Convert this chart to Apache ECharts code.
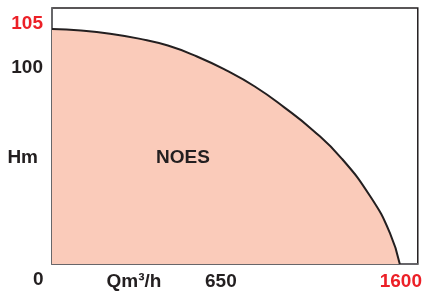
<!DOCTYPE html>
<html>
<head>
<meta charset="utf-8">
<script src="https://cdn.jsdelivr.net/npm/echarts@6/dist/echarts.min.js"></script>
<style>html,body{margin:0;padding:0;background:#fff}#c{width:425px;height:295px}</style>
</head>
<body>
<div id="c"></div>
<script>
// Data
var flowQ = [0, 133, 267, 400, 533, 667, 800, 933, 1067, 1200, 1333, 1467, 1554, 1600];
var headH = [105, 104.3, 102.9, 100.7, 97.6, 92.7, 86.6, 79.3, 70.1, 59.8, 47.1, 29.8, 14.0, 0];
var yTickLabels = ['105', '100', 'Hm'];
var xTickLabels = ['Qm\u00B3/h', '650', '1600'];
var originLabel = '0';
var areaLabel = 'NOES';

var FONT = "'Liberation Sans', Arial, Helvetica, sans-serif";
var DARK = '#231f20';
var RED = '#ec2027';

// label placement (axis values where label texts sit)
var yLabelPos = [107.2, 87.6, 47.4];
var xLabelPos = [377, 777, 1605];

function idxOf(arr, v) {
  for (var i = 0; i < arr.length; i++) if (Math.abs(arr[i] - v) < 0.01) return i;
  return -1;
}

var chart = echarts.init(document.getElementById('c'), null, {renderer: 'canvas'});
chart.setOption({
  animation: false,
  grid: {left: 52, top: 8, right: 7, bottom: 31, show: true, borderColor: DARK, borderWidth: 1.5, backgroundColor: 'transparent'},
  xAxis: {
    type: 'value', min: 0, max: 1682.8,
    splitLine: {show: false},
    axisTick: {show: false},
    axisLine: {show: true, lineStyle: {color: '#6d6e71', width: 1.5}},
    axisLabel: {
      customValues: xLabelPos,
      margin: 8,
      showMinLabel: true, showMaxLabel: true,
      formatter: function (v) {
        var i = idxOf(xLabelPos, v);
        if (i < 0) return '';
        return i === 2 ? '{r|' + xTickLabels[i] + '}' : '{d|' + xTickLabels[i] + '}';
      },
      rich: {
        d: {fontFamily: FONT, fontWeight: 'bold', fontSize: 19, color: DARK},
        r: {fontFamily: FONT, fontWeight: 'bold', fontSize: 19, color: RED}
      }
    }
  },
  yAxis: {
    type: 'value', min: 0, max: 114.38,
    splitLine: {show: false},
    axisTick: {show: false},
    axisLine: {show: true, lineStyle: {color: '#6d6e71', width: 1.5}},
    axisLabel: {
      customValues: yLabelPos,
      margin: 9,
      showMinLabel: true, showMaxLabel: true,
      formatter: function (v) {
        var i = idxOf(yLabelPos, v);
        if (i < 0) return '';
        if (i === 0) return '{r|' + yTickLabels[i] + '}';
        if (i === 2) return '{h|' + yTickLabels[i] + '}';
        return '{d|' + yTickLabels[i] + '}';
      },
      rich: {
        d: {fontFamily: FONT, fontWeight: 'bold', fontSize: 19, color: DARK},
        h: {fontFamily: FONT, fontWeight: 'bold', fontSize: 19, color: DARK, padding: [0, 5, 0, 0]},
        r: {fontFamily: FONT, fontWeight: 'bold', fontSize: 19, color: RED}
      }
    }
  },
  series: [{
    type: 'line',
    data: flowQ.map(function (q, i) { return [q, headH[i]]; }),
    smooth: 0.5,
    symbol: 'none',
    lineStyle: {color: DARK, width: 2},
    areaStyle: {color: '#facbba', opacity: 1},
    z: 1
  }],
  graphic: [
    {type: 'text', left: 33, top: 270, z: 10,
      style: {text: originLabel, font: 'bold 19px ' + FONT, fill: DARK}},
    {type: 'text', x: 183, y: 158, z: 10,
      style: {text: areaLabel, font: 'bold 19px ' + FONT, fill: DARK, align: 'center', verticalAlign: 'middle'}}
  ]
});
</script>
</body>
</html>
